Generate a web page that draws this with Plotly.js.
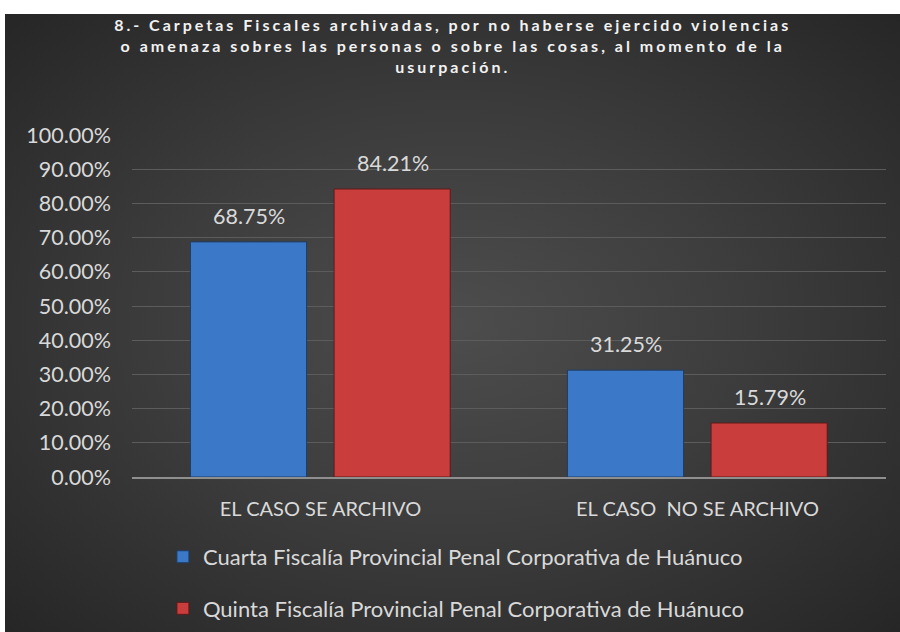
<!DOCTYPE html>
<html>
<head>
<meta charset="utf-8">
<script src="https://cdn.plot.ly/plotly-3.0.1.min.js"></script>
<style>
  html, body { margin:0; padding:0; background:#ffffff; width:900px; height:632px; overflow:hidden; }
  #bg { position:absolute; left:5px; top:14px; width:895px; height:618px;
        background: radial-gradient(ellipse at 50% 50%, #4d4d4d 0%, #3d3d3d 45%, #262626 100%); }
  #chart { position:absolute; left:0; top:0; width:900px; height:632px; }
  .gtitle { letter-spacing: 3px; }
</style>
</head>
<body>
<div id="bg"></div>
<div id="chart"></div>
<script>
const categories = ["EL CASO SE ARCHIVO", "EL CASO\u00a0 NO SE ARCHIVO"];
const seriesNames = [
  "Cuarta Fiscalía Provincial Penal Corporativa de Huánuco",
  "Quinta Fiscalía Provincial Penal Corporativa de Huánuco"
];
const cuartaValues = [68.75, 31.25];
const quintaValues = [84.21, 15.79];
const yTickValues = [0,10,20,30,40,50,60,70,80,90,100];
const titleText = "8.- Carpetas Fiscales archivadas, por no haberse ejercido violencias<br>o amenaza sobres las personas o sobre las cosas, al momento de la<br>usurpación.";

const fontFam = "Lato, 'Open Sans', sans-serif";
const labelColor = "#d9d9d9";

const traces = [
  {
    type: "bar", name: seriesNames[0], x: categories, y: cuartaValues,
    width: 0.308, offset: -0.345, legendgroup: "a",
    marker: { color: "#3b78c8", line: { color: "#1e3d66", width: 1 } },
    hoverinfo: "none"
  },
  {
    type: "bar", name: seriesNames[1], x: categories, y: quintaValues,
    width: 0.308, offset: 0.036, legendgroup: "b",
    marker: { color: "#c93d3d", line: { color: "#5e1a1a", width: 1 } },
    hoverinfo: "none"
  }
];

const annotations = [];
const series = [[cuartaValues, -72], [quintaValues, 72]];
series.forEach(([vals, dx]) => {
  vals.forEach((v, i) => {
    annotations.push({
      x: categories[i], y: v, xref: "x", yref: "y",
      text: v.toFixed(2) + "%", showarrow: false,
      xshift: dx, yshift: 26, yanchor: "middle",
      font: { family: fontFam, size: 21.5, color: labelColor }
    });
  });
});

const layout = {
  width: 900, height: 632,
  paper_bgcolor: "rgba(0,0,0,0)", plot_bgcolor: "rgba(0,0,0,0)",
  margin: { l: 132, r: 14, t: 135, b: 155, autoexpand: false },
  title: {
    text: titleText, x: 0.503, xanchor: "center", yref: "container", y: 0.951, yanchor: "top",
    font: { family: fontFam, size: 16, color: "#f2f2f2", weight: "bold" }
  },
  barmode: "group",
  showlegend: true,
  legend: {
    orientation: "v", x: 0.041, xanchor: "left", yref: "container", y: 0.152, yanchor: "top",
    font: { family: fontFam, size: 22, color: labelColor },
    tracegroupgap: 20, itemwidth: 30, bgcolor: "rgba(0,0,0,0)"
  },
  xaxis: {
    type: "category", showgrid: false, zeroline: false,
    showline: true, linecolor: "#8f8f8f", linewidth: 2,
    ticks: "", ticklabelstandoff: 13,
    tickfont: { family: fontFam, size: 20, color: labelColor }
  },
  yaxis: {
    range: [0, 100], tickvals: yTickValues,
    ticktext: yTickValues.map(v => v.toFixed(2) + "%"),
    showgrid: true, gridcolor: "#5c5c5c", gridwidth: 1,
    zeroline: false, showline: false, ticks: "", ticklabelstandoff: 20,
    tickfont: { family: fontFam, size: 21.5, color: labelColor }
  },
  annotations: annotations
};

Plotly.newPlot("chart", traces, layout, { staticPlot: true, displayModeBar: false });
</script>
</body>
</html>
